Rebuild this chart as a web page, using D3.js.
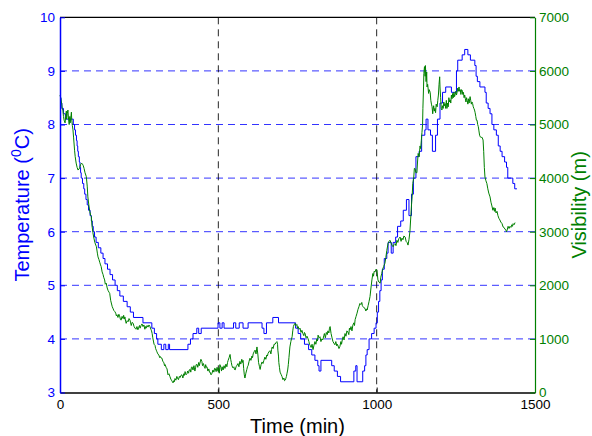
<!DOCTYPE html>
<html>
<head>
<meta charset="utf-8">
<script src="https://cdn.jsdelivr.net/npm/d3@7"></script>
<style>
  html, body { margin: 0; padding: 0; background: #fff; }
  svg { display: block; font-family: "Liberation Sans", Arial, Helvetica, sans-serif; }
</style>
</head>
<body>
<svg id="chart" width="592" height="436"></svg>
<script>
// Air temperature (left axis, 0.1 degree steps) and visibility (right axis) over one day.
// Each reading is [time in minutes, value].
const temperature = [
  [0,8.5],[3,8.4],[6,8.3],[11,8.2],[17,8.1],[42,8.0],[46,7.9],[49,7.8],[52,7.7],[54,7.6],
  [56,7.5],[58,7.4],[61,7.3],[63,7.2],[65,7.1],[67,7.0],[71,6.9],[75,6.8],[78,6.7],[82,6.6],
  [86,6.5],[90,6.4],[95,6.3],[99,6.2],[102,6.1],[105,6.0],[109,5.9],[114,5.8],[121,5.7],[129,5.6],
  [136,5.5],[142,5.4],[150,5.3],[158,5.2],[166,5.1],[174,5.0],[181,4.9],[189,4.8],[200,4.7],[212,4.6],
  [222,4.5],[232,4.4],[262,4.3],[290,4.2],[298,4.1],[305,4.0],[309,3.9],[320,3.8],[328,3.9],[334,3.8],
  [342,3.9],[346,3.8],[404,3.9],[412,4.0],[420,4.1],[432,4.2],[438,4.1],[446,4.2],[499,4.3],[505,4.2],
  [512,4.3],[518,4.2],[548,4.3],[555,4.2],[566,4.3],[578,4.2],[594,4.3],[638,4.2],[644,4.1],[652,4.3],
  [672,4.4],[690,4.3],[744,4.2],[752,4.1],[760,4.0],[772,3.9],[785,3.8],[795,3.7],[805,3.6],[814,3.5],
  [818,3.4],[824,3.6],[858,3.5],[866,3.4],[876,3.3],[886,3.2],[928,3.4],[934,3.5],[938,3.2],[956,3.4],
  [962,3.5],[966,3.7],[970,3.8],[976,4.0],[984,4.1],[992,4.2],[998,4.3],[1002,4.5],[1006,4.7],[1010,4.9],
  [1014,5.1],[1018,5.3],[1024,5.5],[1032,5.6],[1036,5.8],[1046,5.6],[1052,5.8],[1060,5.9],[1066,6.1],[1076,6.2],
  [1084,6.4],[1094,6.6],[1102,6.3],[1110,6.7],[1116,7.0],[1124,7.4],[1134,7.5],[1142,7.8],[1152,7.9],[1156,8.1],
  [1162,7.9],[1170,7.8],[1176,7.5],[1186,7.8],[1192,8.1],[1200,8.4],[1208,8.6],[1218,8.7],[1236,8.6],[1252,9.0],
  [1256,9.2],[1270,9.3],[1278,9.4],[1288,9.3],[1296,9.2],[1310,9.1],[1314,8.9],[1318,8.8],[1326,8.7],[1342,8.6],
  [1346,8.4],[1352,8.3],[1358,8.2],[1364,8.0],[1370,7.9],[1378,7.8],[1384,7.6],[1390,7.5],[1396,7.4],[1404,7.3],
  [1410,7.2],[1414,7.0],[1430,6.9],[1436,6.8],[1443,6.8]
];

const visibility = [
  [0,5550],[3,5480],[5,5400],[7,5300],[9,5270],[11,5150],[13,5080],[16,5030],[18,5150],[20,5250],
  [21,5100],[23,5200],[25,5270],[27,5100],[29,5000],[31,5150],[32,5030],[34,5120],[36,5230],[37,5100],
  [39,4980],[41,4900],[43,4750],[46,4520],[48,4400],[51,4280],[54,4200],[57,4150],[60,4170],[62,4190],
  [65,4250],[68,4280],[71,4260],[73,4240],[76,4180],[79,4100],[83,4030],[86,3850],[88,3650],[91,3500],
  [94,3380],[97,3300],[99,3280],[101,3120],[104,2980],[107,2880],[110,2800],[113,2750],[115,2720],[118,2600],
  [120,2530],[123,2480],[126,2420],[128,2380],[130,2350],[133,2250],[136,2200],[138,2150],[141,2100],[143,2020],
  [146,2040],[149,1950],[152,1900],[155,1870],[157,1850],[160,1720],[162,1670],[165,1600],[168,1560],[170,1530],
  [173,1510],[176,1480],[178,1430],[180,1450],[183,1400],[186,1460],[189,1410],[191,1360],[193,1350],[196,1420],
  [199,1380],[201,1440],[203,1370],[205,1410],[207,1330],[209,1290],[212,1340],[215,1320],[218,1380],[221,1350],
  [223,1300],[225,1250],[228,1310],[231,1290],[234,1230],[237,1200],[240,1180],[243,1230],[246,1170],[249,1220],
  [251,1250],[253,1200],[256,1250],[259,1280],[262,1230],[265,1260],[268,1180],[270,1230],[272,1200],[275,1250],
  [278,1220],[281,1260],[284,1230],[287,1180],[289,1150],[291,1100],[293,1020],[295,960],[297,900],[300,880],
  [302,820],[304,790],[306,760],[309,720],[312,700],[315,650],[317,670],[320,640],[322,640],[325,575],
  [328,560],[330,500],[332,520],[335,470],[338,440],[341,330],[344,350],[347,300],[350,250],[352,230],
  [354,210],[357,180],[359,220],[361,200],[363,260],[366,230],[369,300],[371,270],[374,240],[377,300],
  [379,280],[382,320],[385,330],[388,270],[391,350],[393,320],[395,390],[398,330],[401,350],[403,400],
  [406,360],[408,420],[411,430],[413,380],[415,470],[417,480],[420,420],[423,500],[426,400],[428,460],
  [430,520],[433,520],[435,470],[438,560],[440,500],[442,550],[445,620],[448,580],[450,500],[453,540],
  [456,470],[458,450],[460,520],[462,470],[464,480],[467,400],[470,440],[472,380],[474,380],[477,330],
  [480,360],[483,420],[486,380],[488,450],[490,450],[493,390],[496,470],[499,400],[501,450],[503,360],
  [505,520],[508,470],[510,400],[512,480],[515,420],[518,500],[521,450],[524,530],[527,480],[529,560],
  [531,600],[534,650],[537,710],[539,620],[541,560],[543,500],[546,460],[549,480],[551,430],[553,420],
  [556,480],[559,510],[562,540],[565,480],[568,580],[571,530],[574,620],[576,560],[578,600],[580,450],
  [582,330],[584,270],[587,360],[590,430],[592,480],[594,500],[597,580],[600,640],[603,600],[606,680],
  [608,650],[610,720],[613,760],[616,790],[619,720],[622,850],[625,700],[627,560],[630,480],[632,430],
  [635,520],[638,570],[641,540],[644,600],[647,660],[650,620],[653,700],[655,680],[657,730],[660,760],
  [663,780],[666,720],[668,800],[670,850],[673,820],[676,900],[679,900],[682,930],[685,950],[687,900],
  [688,790],[690,680],[691,560],[693,470],[695,380],[698,340],[701,300],[704,240],[707,270],[709,220],
  [711,230],[713,260],[715,300],[717,360],[719,420],[721,520],[723,650],[726,850],[729,950],[731,1000],
  [733,1040],[735,1150],[737,1230],[739,1260],[742,1290],[745,1250],[748,1270],[750,1200],[752,1230],[755,1180],
  [758,1200],[761,1120],[764,1160],[767,1100],[770,1060],[772,1120],[774,1100],[777,1020],[780,1050],[783,1010],
  [786,950],[788,900],[790,880],[793,840],[796,900],[799,800],[802,880],[805,950],[808,900],[811,1000],
  [813,960],[815,1070],[818,1020],[821,1040],[824,950],[827,1000],[830,980],[833,1060],[835,1100],[838,1020],
  [841,1120],[844,1080],[846,1150],[849,1110],[851,1200],[853,1230],[856,1100],[859,1020],[862,950],[865,920],
  [868,890],[871,950],[874,870],[876,900],[878,870],[881,820],[884,860],[887,950],[889,900],[892,1000],
  [894,1040],[897,980],[900,1100],[903,1050],[906,1150],[909,1130],[912,1080],[914,1200],[916,1170],[919,1230],
  [922,1150],[925,1260],[928,1300],[930,1250],[932,1360],[935,1420],[938,1480],[941,1550],[944,1600],[947,1660],
  [950,1640],[953,1680],[955,1620],[957,1600],[960,1580],[963,1570],[966,1520],[968,1560],[970,1540],[973,1620],
  [976,1700],[979,1790],[982,1950],[985,2100],[988,2220],[990,2170],[992,2260],[995,2250],[998,2300],[1001,2280],
  [1004,2100],[1007,2060],[1011,2040],[1013,2150],[1016,2220],[1019,2300],[1022,2350],[1026,2410],[1029,2520],[1032,2650],
  [1036,2780],[1039,2820],[1042,2840],[1045,2800],[1048,2750],[1052,2720],[1055,2760],[1058,2780],[1061,2740],[1064,2840],
  [1067,2800],[1070,2870],[1074,2900],[1077,2820],[1080,2880],[1083,2850],[1086,2920],[1090,2900],[1093,2820],[1096,2800],
  [1099,2750],[1102,2850],[1105,3000],[1108,3300],[1110,3500],[1112,3650],[1114,3900],[1117,4000],[1119,4180],[1121,4180],
  [1124,4100],[1127,4100],[1129,4300],[1131,4460],[1134,4400],[1137,4600],[1139,4550],[1141,4700],[1143,4850],[1145,5000],
  [1146,5300],[1148,5700],[1149,5950],[1151,6080],[1153,5900],[1154,6100],[1156,5800],[1158,5980],[1159,5700],[1161,5750],
  [1162,5700],[1164,5580],[1166,5650],[1169,5600],[1171,5450],[1173,5380],[1175,5330],[1177,5200],[1178,5270],[1180,5350],
  [1182,5250],[1184,5300],[1186,5220],[1188,5380],[1191,5330],[1193,5450],[1195,5550],[1197,5750],[1199,5890],[1200,5700],
  [1202,5500],[1204,5300],[1206,5270],[1208,5350],[1210,5300],[1212,5420],[1214,5350],[1216,5390],[1218,5300],[1220,5450],
  [1222,5300],[1224,5400],[1226,5330],[1228,5500],[1230,5420],[1232,5460],[1234,5400],[1236,5550],[1238,5480],[1240,5580],
  [1242,5500],[1244,5600],[1246,5520],[1248,5560],[1250,5620],[1252,5550],[1254,5600],[1256,5680],[1258,5620],[1260,5700],
  [1262,5620],[1264,5650],[1266,5560],[1268,5650],[1270,5640],[1272,5560],[1274,5600],[1276,5500],[1278,5550],[1280,5480],
  [1282,5420],[1284,5500],[1286,5450],[1288,5380],[1290,5480],[1292,5400],[1295,5520],[1297,5450],[1299,5380],[1301,5420],
  [1303,5390],[1305,5330],[1307,5300],[1309,5270],[1311,5220],[1313,5150],[1315,5080],[1317,5080],[1319,5000],[1321,4960],
  [1323,4880],[1325,4800],[1327,4770],[1330,4760],[1333,4760],[1336,4710],[1338,4500],[1340,4200],[1342,4020],[1345,3950],
  [1348,3900],[1351,3800],[1354,3720],[1358,3650],[1361,3550],[1364,3480],[1367,3400],[1370,3450],[1372,3380],[1374,3440],
  [1377,3350],[1380,3380],[1383,3300],[1386,3250],[1389,3220],[1392,3180],[1396,3150],[1399,3090],[1402,3080],[1405,3050],
  [1408,3030],[1410,3000],[1412,3030],[1415,3100],[1418,3060],[1421,3100],[1424,3080],[1427,3130],[1429,3100],[1431,3150],
  [1434,3130],[1437,3170]
];

const timeTicks = [0, 500, 1000, 1500];
const tempTicks = [3, 4, 5, 6, 7, 8, 9, 10];
const visTicks = [0, 1000, 2000, 3000, 4000, 5000, 6000, 7000];

const BLUE = "#0000ff";
const GREEN = "#008000";

const svg = d3.select("#chart");
const m = { left: 60, right: 57, top: 17.3, bottom: 43.5 };
const W = 592 - m.left - m.right;
const H = 436 - m.top - m.bottom;

const x = d3.scaleLinear().domain([0, 1500]).range([0, W]);
const yT = d3.scaleLinear().domain([3, 10]).range([H, 0]);
const yV = d3.scaleLinear().domain([0, 7000]).range([H, 0]);
const intFmt = d3.format("d");

const g = svg.append("g").attr("transform", `translate(${m.left},${m.top})`);

// horizontal grid of the temperature axis
g.append("g").selectAll("line")
  .data(tempTicks.filter(t => t > 3 && t < 10))
  .join("line")
  .attr("x1", 0).attr("x2", W)
  .attr("y1", d => yT(d)).attr("y2", d => yT(d))
  .attr("stroke", BLUE).attr("stroke-opacity", 0.8)
  .attr("stroke-width", 1).attr("stroke-dasharray", "7,5");

// vertical grid of the time axis
g.append("g").selectAll("line")
  .data(timeTicks.filter(t => t > 0 && t < 1500))
  .join("line")
  .attr("x1", d => x(d)).attr("x2", d => x(d))
  .attr("y1", 0).attr("y2", H)
  .attr("stroke", "#000").attr("stroke-opacity", 0.85)
  .attr("stroke-width", 1).attr("stroke-dasharray", "7,5");

// temperature trace
g.append("path")
  .datum(temperature)
  .attr("fill", "none")
  .attr("stroke", BLUE)
  .attr("stroke-width", 1)
  .attr("d", d3.line().x(d => x(d[0])).y(d => yT(d[1])).curve(d3.curveStepAfter));

// visibility trace
g.append("path")
  .datum(visibility)
  .attr("fill", "none")
  .attr("stroke", GREEN)
  .attr("stroke-width", 1)
  .attr("stroke-linejoin", "round")
  .attr("d", d3.line().x(d => x(d[0])).y(d => yV(d[1])));

// frame: top edge
g.append("line").attr("x1", 0).attr("x2", W).attr("y1", 0).attr("y2", 0)
  .attr("stroke", "#000").attr("stroke-width", 1.2);

// bottom axis
const xAxis = g.append("g").attr("transform", `translate(0,${H})`)
  .call(d3.axisBottom(x).tickValues(timeTicks).tickFormat(intFmt)
    .tickSizeInner(-5).tickSizeOuter(0).tickPadding(7));
xAxis.select(".domain").attr("stroke", "#000").attr("stroke-width", 1.5);
xAxis.selectAll(".tick line").attr("stroke", "#000");
xAxis.selectAll("text").attr("fill", "#000").attr("font-size", "13.5px");

// left axis (temperature)
const yAxisL = g.append("g")
  .call(d3.axisLeft(yT).tickValues(tempTicks).tickFormat(intFmt)
    .tickSizeInner(-5).tickSizeOuter(0).tickPadding(5));
yAxisL.select(".domain").attr("stroke", BLUE).attr("stroke-width", 1.5);
yAxisL.selectAll(".tick line").attr("stroke", BLUE);
yAxisL.selectAll("text").attr("fill", BLUE).attr("font-size", "13.5px");

// right axis (visibility)
const yAxisR = g.append("g").attr("transform", `translate(${W},0)`)
  .call(d3.axisRight(yV).tickValues(visTicks).tickFormat(intFmt)
    .tickSizeInner(-5).tickSizeOuter(0).tickPadding(4));
yAxisR.select(".domain").attr("stroke", GREEN).attr("stroke-width", 1.2);
yAxisR.selectAll(".tick line").attr("stroke", GREEN);
yAxisR.selectAll("text").attr("fill", GREEN).attr("font-size", "13.5px");

// axis titles
svg.append("text")
  .attr("x", m.left + W / 2).attr("y", 433)
  .attr("text-anchor", "middle").attr("font-size", "20px").attr("fill", "#000")
  .text("Time (min)");

const tl = svg.append("text")
  .attr("transform", `translate(29,${m.top + H / 2}) rotate(-90)`)
  .attr("text-anchor", "middle").attr("font-size", "20px").attr("fill", BLUE);
tl.append("tspan").text("Temperature (");
tl.append("tspan").attr("font-size", "14px").attr("dy", "-8").text("0");
tl.append("tspan").attr("dy", "8").text("C)");

svg.append("text")
  .attr("transform", `translate(586,${m.top + H / 2}) rotate(-90)`)
  .attr("text-anchor", "middle").attr("font-size", "20px").attr("fill", GREEN)
  .text("Visibility (m)");
</script>
</body>
</html>
